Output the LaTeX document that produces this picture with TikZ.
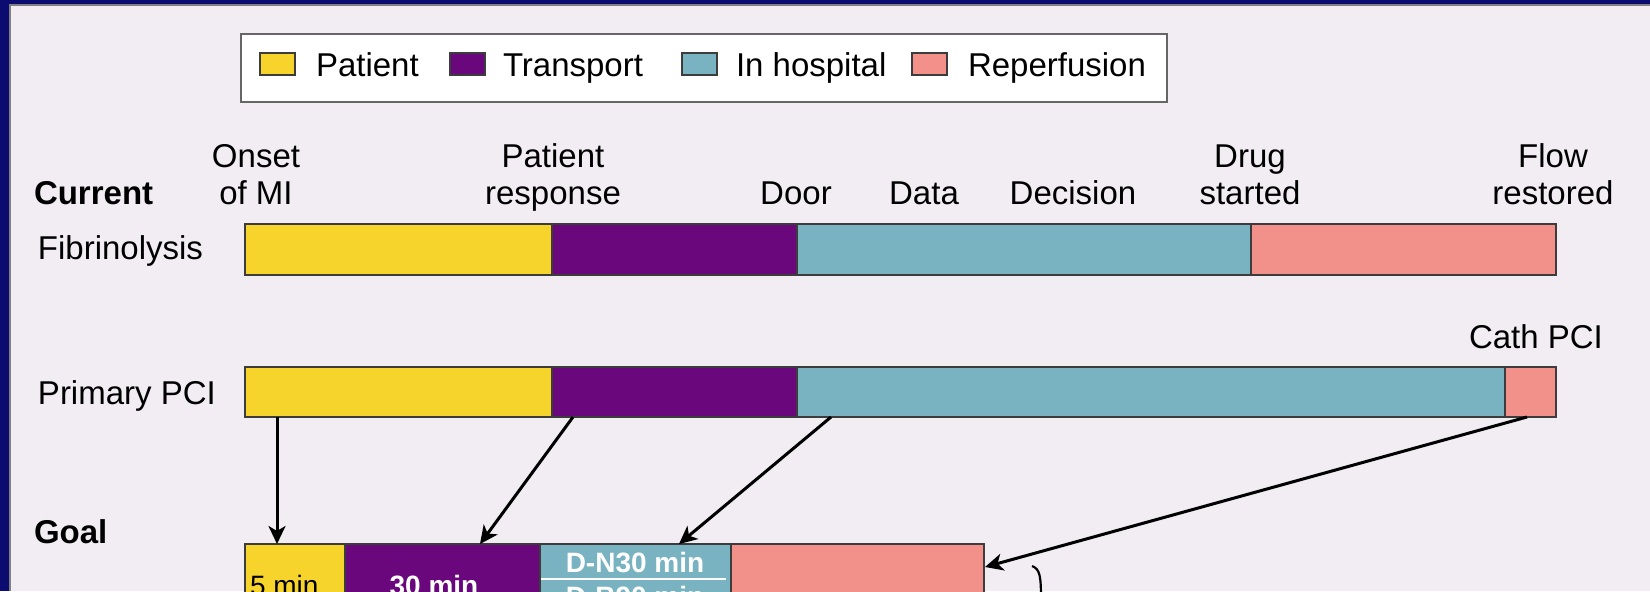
\documentclass[tikz,border=0pt]{standalone}
\usepackage{fontspec}
\setmainfont{Liberation Sans}
\usetikzlibrary{arrows.meta}
\definecolor{bg}{HTML}{F2EDF3}
\definecolor{navy}{HTML}{0B0B70}
\definecolor{pyellow}{HTML}{F7D42B}
\definecolor{ppurple}{HTML}{6A077C}
\definecolor{pblue}{HTML}{79B3C2}
\definecolor{ppink}{HTML}{F2908A}
\definecolor{edgegray}{HTML}{3C3C3C}
\begin{document}
\begin{tikzpicture}[x=0.5pt,y=-0.5pt,
  seg/.style={draw=edgegray, line width=0.8pt, inner sep=0pt, outer sep=0pt, anchor=north west},
  swatch/.style={draw=edgegray, line width=0.8pt, inner sep=0pt, outer sep=0pt, anchor=north west, minimum width=17.5pt, minimum height=11pt},
  lab/.style={inner sep=0pt, outer sep=0pt, font=\fontsize{16.5}{18.5}\selectfont, align=center, anchor=base},
  labw/.style={lab, anchor=base west, align=left},
  small/.style={inner sep=0pt, outer sep=0pt, font=\fontsize{14}{16}\selectfont\bfseries, text=white, anchor=base},
  conn/.style={-{Stealth[length=9pt,width=8.5pt,inset=2.5pt]}, line width=1.5pt, black}
]
\useasboundingbox (0,0) rectangle (1650,591);
\clip (0,0) rectangle (1650,591);
\fill[bg] (0,0) rectangle (1650,591);
% frame
\fill[navy] (0,0) rectangle (1650,4);
\fill[navy] (0,0) rectangle (9,591);
\draw[gray, line width=0.6pt] (9,5) -- (1650,5);
\draw[gray, line width=0.6pt] (10,5) -- (10,591);

% legend
\node[draw=gray!80!black, fill=white, line width=1pt, inner sep=0pt, anchor=north west,
      minimum width=463pt, minimum height=34pt] (legend) at (240,33) {};
\node[swatch, fill=pyellow] (swY) at (260,53) {};
\node[labw] (lgY) at (316,76) {Patient};
\node[swatch, fill=ppurple] (swP) at (450,53) {};
\node[labw] (lgP) at (503,76) {Transport};
\node[swatch, fill=pblue] (swB) at (682,53) {};
\node[labw] (lgB) at (736,76) {In hospital};
\node[swatch, fill=ppink] (swR) at (912,53) {};
\node[labw] (lgR) at (968,76) {Reperfusion};

% headings (base anchor = baseline of the last line)
\node[labw, font=\fontsize{16.5}{18.5}\selectfont\bfseries] (cur) at (34,204) {Current};
\node[lab] (onset) at (256,204) {Onset\\of MI};
\node[lab] (presp) at (553,204) {Patient\\response};
\node[lab] (door) at (796,204) {Door};
\node[lab] (data) at (924,204) {Data};
\node[lab] (decis) at (1073,204) {Decision};
\node[lab] (drug) at (1250,204) {Drug\\started};
\node[lab] (flow) at (1553,204) {Flow\\restored};
\node[lab] (cath) at (1536,348) {Cath PCI};
\node[labw] (fibl) at (38,259) {Fibrinolysis};
\node[labw] (pcil) at (38,404) {Primary PCI};
\node[labw, font=\fontsize{16.5}{18.5}\selectfont\bfseries] (goal) at (34,543) {Goal};

% fibrinolysis bar
\node[seg, fill=pyellow, minimum width=153.5pt, minimum height=25.5pt] (fY) at (245,224) {};
\node[seg, fill=ppurple, minimum width=122.5pt, minimum height=25.5pt] (fP) at (552,224) {};
\node[seg, fill=pblue, minimum width=227pt, minimum height=25.5pt] (fB) at (797,224) {};
\node[seg, fill=ppink, minimum width=152.5pt, minimum height=25.5pt] (fR) at (1251,224) {};

% primary PCI bar
\node[seg, fill=pyellow, minimum width=153.5pt, minimum height=25pt] (pY) at (245,367) {};
\node[seg, fill=ppurple, minimum width=122.5pt, minimum height=25pt] (pP) at (552,367) {};
\node[seg, fill=pblue, minimum width=354pt, minimum height=25pt] (pB) at (797,367) {};
\node[seg, fill=ppink, minimum width=25.5pt, minimum height=25pt] (pR) at (1505,367) {};

% goal bar
\node[seg, fill=pyellow, minimum width=50pt, minimum height=58pt] (gY) at (245,544) {};
\node[seg, fill=ppurple, minimum width=97.5pt, minimum height=58pt] (gP) at (345,544) {};
\node[seg, fill=pblue, minimum width=95.5pt, minimum height=58pt] (gB) at (540,544) {};
\node[seg, fill=ppink, minimum width=126.5pt, minimum height=58pt] (gR) at (731,544) {};

\node[small, anchor=base west, font=\fontsize{14}{16}\selectfont, text=black] (t5) at (250,595) {5 min};
\node[small] (t30) at (434,595) {30 min};
\node[small] (tdn) at (635,572) {D-N30 min};
\coordinate (wl1) at (541,579);
\coordinate (wl2) at (726,579);
\draw[white, line width=1pt] (wl1) -- (wl2);
\node[small] (tdb) at (635,606) {D-B90 min};

% brace
\coordinate (br1) at (1032,566);
\coordinate (br2) at (1041,600);
\draw[black, line width=1.1pt] (br1) .. controls (1040,569) and (1041,576) .. (br2);

% connectors
\coordinate (a1s) at (277,417);
\coordinate (a1e) at (277,544);
\coordinate (a2s) at (573,417);
\coordinate (a2e) at (480,544);
\coordinate (a3s) at (831,417);
\coordinate (a3e) at (679,544);
\coordinate (a4s) at (1527,417);
\coordinate (a4e) at (985,567);
\draw[conn] (a1s) -- (a1e);
\draw[conn] (a2s) -- (a2e);
\draw[conn] (a3s) -- (a3e);
\draw[conn] (a4s) -- (a4e);
\end{tikzpicture}
\end{document}
